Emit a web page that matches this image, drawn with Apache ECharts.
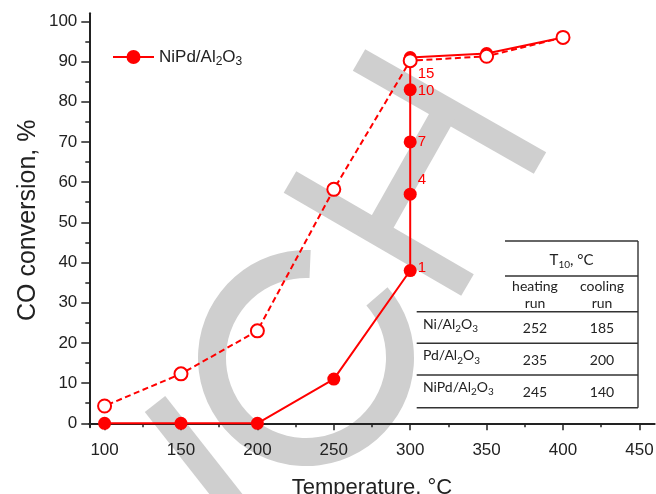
<!DOCTYPE html>
<html><head><meta charset="utf-8">
<script src="https://cdn.jsdelivr.net/npm/echarts@6/dist/echarts.min.js"></script>
<style>html,body{margin:0;padding:0;background:#fff}#c{width:656px;height:494px}</style>
</head><body><div id="c"></div>
<script>
// ---- data ----
const heatingX = [100, 150, 200, 250, 300, 300, 300, 300, 300, 350, 400];
const heatingY = [0, 0, 0, 11, 38, 57, 70, 83, 91, 92, 96];
const heatingLabels = ['', '', '', '', '1', '4', '7', '10', '15', '', ''];
const coolingX = [400, 350, 300, 250, 200, 150, 100];
const coolingY = [96, 91.3, 90.2, 58.2, 23, 12.3, 4.3];
const legendName = 'NiPd/Al2O3';
const tableHeader = 'T10, °C';
const tableColumns = [['heating', 'run'], ['cooling', 'run']];
const tableCatalysts = ['Ni/Al2O3', 'Pd/Al2O3', 'NiPd/Al2O3'];
const tableHeating = ['252', '235', '245'];
const tableCooling = ['185', '200', '140'];

// ---- helpers ----
function chem(s, a, b) { // turn digits into subscript rich tokens
  return s.split(/(\d+)/).filter(t => t !== '').map(t => /^\d+$/.test(t) ? '{' + b + '|' + t + '}' : '{' + a + '|' + t + '}').join('');
}
function band(x1, y1, x2, y2, w) {
  const dx = x2 - x1, dy = y2 - y1, L = Math.hypot(dx, dy);
  const nx = -dy / L * w / 2, ny = dx / L * w / 2;
  return [[x1 + nx, y1 + ny], [x2 + nx, y2 + ny], [x2 - nx, y2 - ny], [x1 - nx, y1 - ny]];
}
const RED = '#ff0000';
const AX = '#222';
const FONT = '"Liberation Sans", Arial, sans-serif';
const TFONT = 'Lato, "Open Sans", sans-serif';
const GRAY = '#cfcfcf';

const labelPos = { '1': [0, -3], '4': [0, -14], '7': [0, 0], '10': [0, 1], '15': [0, 16] };
const heatingData = heatingX.map((x, i) => {
  const d = { value: [x, heatingY[i]] };
  const t = heatingLabels[i];
  if (t) d.label = { show: true, formatter: t, position: 'right', distance: 1, offset: labelPos[t] };
  return d;
});
const coolingData = coolingX.map((x, i) => [x, coolingY[i]]);

// watermark
const wm = [
  { type: 'polygon', shape: { points: band(359, 60, 540, 163, 25) } },
  { type: 'polygon', shape: { points: band(290, 182, 467.5, 285, 25) } },
  { type: 'polygon', shape: { points: band(379, 228, 444, 113, 25) } },
  { type: 'polygon', shape: { points: band(155, 404, 240, 512, 26) } },
  { type: 'sector', shape: { cx: 306, cy: 358, r0: 80, r: 108, startAngle: -41 * Math.PI / 180, endAngle: 272.5 * Math.PI / 180, clockwise: true } }
].map(e => Object.assign(e, { z: -10, silent: true, style: { fill: GRAY } }));

// table
const TL = 416.7, TR = 638, TM = 505;
const c1 = 535, c2 = 602;
const hl = [241, 276, 311.7, 343.3, 375, 407.7];
const lineEl = (x1, y1, x2, y2) => ({ type: 'line', z: 5, silent: true, shape: { x1, y1, x2, y2 }, style: { stroke: '#333', lineWidth: 1.4 } });
const txt = (x, y, text, align, size, rich) => ({ type: 'text', z: 5, silent: true, x, y, style: { text, fill: '#222', font: size + 'px ' + TFONT, align: align || 'center', verticalAlign: 'middle', rich } });
const tbl = [
  lineEl(TM, hl[0], TR, hl[0]), lineEl(TM, hl[1], TR, hl[1]),
  lineEl(TL, hl[2], TR, hl[2]), lineEl(TL, hl[3], TR, hl[3]), lineEl(TL, hl[4], TR, hl[4]), lineEl(TL, hl[5], TR, hl[5]),
  lineEl(TR, hl[0], TR, hl[5]),
  txt(571.5, 260, chem(tableHeader, 'h', 'hs'), 'center', 15, {
    h: { fontSize: 15, fontFamily: TFONT, fill: '#222', lineHeight: 20 },
    hs: { fontSize: 10, fontFamily: TFONT, fill: '#222', lineHeight: 10, verticalAlign: 'bottom' } }),
  txt(c1, 286, tableColumns[0][0], 'center', 14), txt(c1, 303, tableColumns[0][1], 'center', 14),
  txt(c2, 286, tableColumns[1][0], 'center', 14), txt(c2, 303, tableColumns[1][1], 'center', 14)
];
const rowY = [[324, 328], [355.5, 360], [387, 392]];
tableCatalysts.forEach((n, i) => {
  tbl.push(txt(423, rowY[i][0], chem(n, 'n', 'ns'), 'left', 14, {
    n: { fontSize: 14, fontFamily: TFONT, fill: '#222', lineHeight: 20 },
    ns: { fontSize: 10, fontFamily: TFONT, fill: '#222', lineHeight: 10, verticalAlign: 'bottom' } }));
  tbl.push(txt(c1, rowY[i][1], tableHeating[i], 'center', 14));
  tbl.push(txt(c2, rowY[i][1], tableCooling[i], 'center', 14));
});

const chart = echarts.init(document.getElementById('c'));
chart.setOption({
  animation: false,
  backgroundColor: '#fff',
  grid: [
    { left: 89.3, top: 13.3, width: 565.4, height: 414.0, containLabel: false, outerBoundsMode: 'none' },
    { left: 104.6, top: 21.3, width: 534.8, height: 402.0, containLabel: false, outerBoundsMode: 'none' }
  ],
  xAxis: [
    { gridIndex: 0, type: 'value', min: 90, max: 460, axisLine: { show: true, lineStyle: { color: AX, width: 2 } },
      axisTick: { show: false }, axisLabel: { show: false }, splitLine: { show: false },
      name: 'Temperature, °C', nameLocation: 'middle', nameGap: 50,
      nameTextStyle: { fontSize: 22, fontFamily: FONT, color: AX } },
    { gridIndex: 1, type: 'value', min: 100, max: 450, interval: 50, offset: 4,
      axisLine: { show: false }, splitLine: { show: false },
      axisTick: { show: true, length: 7, lineStyle: { color: AX, width: 1.5 } },
      minorTick: { show: true, splitNumber: 2, length: 4, lineStyle: { color: AX, width: 1.5 } },
      axisLabel: { fontSize: 17, margin: 15, color: AX, fontFamily: FONT } }
  ],
  yAxis: [
    { gridIndex: 0, type: 'value', min: -1, max: 102, axisLine: { show: true, lineStyle: { color: AX, width: 2 } },
      axisTick: { show: false }, axisLabel: { show: false }, splitLine: { show: false },
      name: 'CO conversion, %', nameLocation: 'middle', nameGap: 49, nameRotate: 90,
      nameTextStyle: { fontSize: 25, fontFamily: FONT, color: AX } },
    { gridIndex: 1, type: 'value', min: 0, max: 100, interval: 10, offset: 15.3,
      axisLine: { show: false }, splitLine: { show: false },
      axisTick: { show: true, length: 8, lineStyle: { color: AX, width: 1.5 } },
      minorTick: { show: true, splitNumber: 2, length: 4, lineStyle: { color: AX, width: 1.5 } },
      axisLabel: { fontSize: 17, margin: 12, color: AX, fontFamily: FONT } }
  ],
  legend: {
    left: 112, top: 48.5, padding: 0, itemWidth: 41, itemHeight: 17.5, data: [legendName],
    formatter: () => chem(legendName, 'a', 's'),
    textStyle: { color: AX, fontFamily: FONT, fontSize: 17,
      rich: { a: { fontSize: 17, fontFamily: FONT, color: AX, lineHeight: 22 },
              s: { fontSize: 12, fontFamily: FONT, color: AX, lineHeight: 12, verticalAlign: 'bottom' } } }
  },
  graphic: { elements: wm.concat(tbl) },
  series: [
    { name: legendName, type: 'line', xAxisIndex: 0, yAxisIndex: 0, data: heatingData, z: 3,
      symbol: 'circle', symbolSize: 13, itemStyle: { color: RED }, lineStyle: { color: RED, width: 2 },
      label: { color: RED, fontSize: 15, fontFamily: FONT } },
    { name: 'cooling', type: 'line', xAxisIndex: 0, yAxisIndex: 0, data: coolingData, z: 4,
      symbol: 'emptyCircle', symbolSize: 13, itemStyle: { color: RED, borderWidth: 1.5 },
      lineStyle: { color: RED, width: 2, type: [6, 3.5] } }
  ]
});
</script></body></html>
